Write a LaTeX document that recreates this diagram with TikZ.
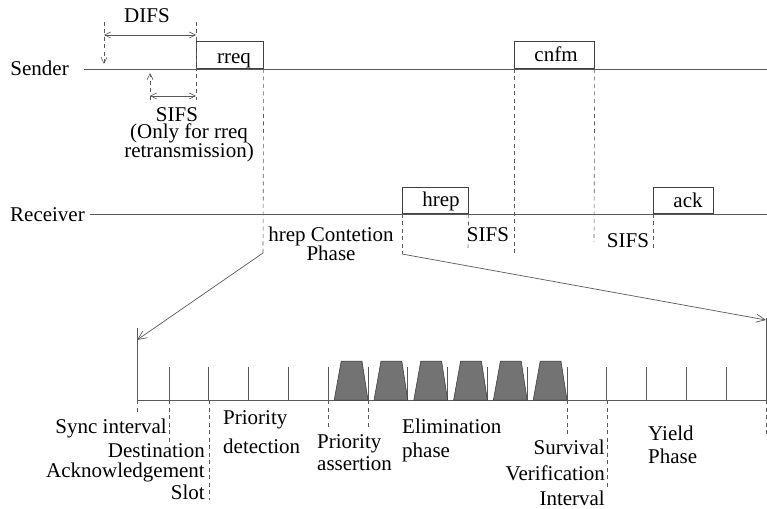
\documentclass[tikz,border=0pt]{standalone}
\usepackage{fontspec}
\setmainfont{Liberation Serif}
\usetikzlibrary{arrows.meta, positioning, calc}
\tikzset{
    line/.style={draw=black!65, line width=0.7bp},
    guide/.style={draw=black!65, line width=0.6bp, dash pattern=on 4bp off 3.5bp},
    span/.style={line, line width=0.6bp, {Straight Barb[length=6bp,width=6bp]}-{Straight Barb[length=6bp,width=6bp]}},
    arrow/.style={line, -{Straight Barb[length=9bp,width=8bp]}},
    packet/.style={rectangle, draw=black!75, line width=0.7bp, inner sep=0pt, anchor=south west},
    pulse/.style={fill=black!55, draw=black!80, line width=0.5bp},
    txt/.style={font=\fontsize{21bp}{19bp}\selectfont, inner sep=0pt}
}

\begin{document}
\begin{tikzpicture}[x=1bp, y=-1bp]
    \useasboundingbox (0,0) rectangle (767,509);

    % the two stations
    \node[txt, anchor=base east] (sender) at (69,76) {Sender};
    \node[txt, anchor=base east] (receiver) at (85,222) {Receiver};
    \coordinate (s0) at (84,69);
    \coordinate (s1) at (767,69);
    \coordinate (r0) at (90,214);
    \coordinate (r1) at (767,214);
    \draw[line] (s0) -- (s1);
    \draw[line] (r0) -- (r1);

    % frames
    \node[packet, minimum width=67bp, minimum height=27bp] (rreq) at (196,69) {};
    \node[packet, minimum width=80bp, minimum height=27bp] (cnfm) at (514,69) {};
    \node[packet, minimum width=66bp, minimum height=26bp] (hrep) at (402,214) {};
    \node[packet, minimum width=60bp, minimum height=26bp] (ack) at (653,214) {};
    \node[txt, anchor=base] (rreqtxt) at (234,64) {rreq};
    \node[txt, anchor=base] (cnfmtxt) at (556,62) {cnfm};
    \node[txt, anchor=base] (hreptxt) at (441,207) {hrep};
    \node[txt, anchor=base] (acktxt) at (688,208) {ack};

    % DIFS and SIFS before rreq
    \coordinate (difsa) at (104,22);
    \coordinate (difsb) at (104,64);
    \coordinate (rreqtop) at (196,22);
    \coordinate (rreqlow) at (196,100);
    \coordinate (sifsa) at (150,100);
    \coordinate (sifsb) at (150,73);
    \draw[guide, -{Straight Barb[length=6bp,width=6bp]}] (difsa) -- (difsb);
    \draw[guide] (rreqtop) -- (rreqlow);
    \draw[guide, -{Straight Barb[length=6bp,width=6bp]}] (sifsa) -- (sifsb);
    \draw[span] (104,35) -- (196,35);
    \draw[span] (150,96) -- (196,96);
    \node[txt, anchor=base] (difs) at (147,23) {DIFS};
    \node[txt, anchor=base] (sifs) at (177,122) {SIFS};
    \node[txt, anchor=base, align=center] (note) at (189,158) {(Only for rreq\\[-1bp]retransmission)};

    % guides below the frames
    \coordinate (zl) at (263,253);
    \coordinate (zr) at (402,254);
    \draw[guide] (rreq.south east) -- (zl);
    \draw[guide] (cnfm.south west) -- (514,253);
    \draw[guide] (cnfm.south east) -- (594,242);
    \draw[guide] (hrep.south west) -- (zr);
    \draw[guide] (hrep.south east) -- (468,248);
    \draw[guide] (ack.south west) -- (653,248);
    \node[txt, anchor=base] (sifs1) at (488,242) {SIFS};
    \node[txt, anchor=base] (sifs2) at (628,248) {SIFS};
    \node[txt, anchor=base, align=center] (phase) at (331,261) {hrep Contetion\\[-1bp]Phase};

    % contention phase in detail
    \coordinate (t0) at (137,400);
    \coordinate (t1) at (766,400);
    \coordinate (t0top) at (137,328);
    \coordinate (t1top) at (766,318);
    \draw[line] (t0top) -- (t0) -- (t1) -- (t1top);
    \foreach \k in {0,...,14}
        \draw[line] ({169+39.8*\k},367) -- ++(0,33);
    \foreach \k in {4,...,9} {
        \pgfmathsetmacro\a{169+39.8*\k}
        \draw[pulse] (\a+6,400) -- (\a+13,361) -- (\a+33.8,361) -- (\a+39.8,400) -- cycle;
    }
    \draw[arrow] (zl) -- (137,340);
    \draw[arrow] (zr) -- (766,320);

    % dashed marks under the slots
    \draw[guide] (t0) -- ++(0,15);
    \draw[guide] (169,400) -- ++(0,42);
    \draw[guide] (209,400) -- ++(0,100);
    \draw[guide] (328.2,400) -- ++(0,28);
    \draw[guide] (368,400) -- ++(0,28);
    \draw[guide] (567,400) -- ++(0,37);
    \draw[guide] (607,400) -- ++(0,87);
    \draw[guide] (t1) -- ++(0,37);

    \node[txt, anchor=base east] (sync) at (167,433) {Sync interval};
    \node[txt, anchor=base east, align=right] (dack) at (205,499) {Destination\\[1bp]Acknowledgement\\[1bp]Slot};
    \node[txt, anchor=base west, align=left] (pdet) at (223,453) {Priority\\[8bp]detection};
    \node[txt, anchor=base west, align=left] (pass) at (317,470) {Priority\\[3bp]assertion};
    \node[txt, anchor=base west, align=left] (elim) at (402,457) {Elimination\\[5bp]phase};
    \node[txt, anchor=base east, align=right] (surv) at (605,505) {Survival\\[6.5bp]Verification\\[6bp]Interval};
    \node[txt, anchor=base west, align=left] (yield) at (648,463) {Yield\\[4bp]Phase};
\end{tikzpicture}
\end{document}
